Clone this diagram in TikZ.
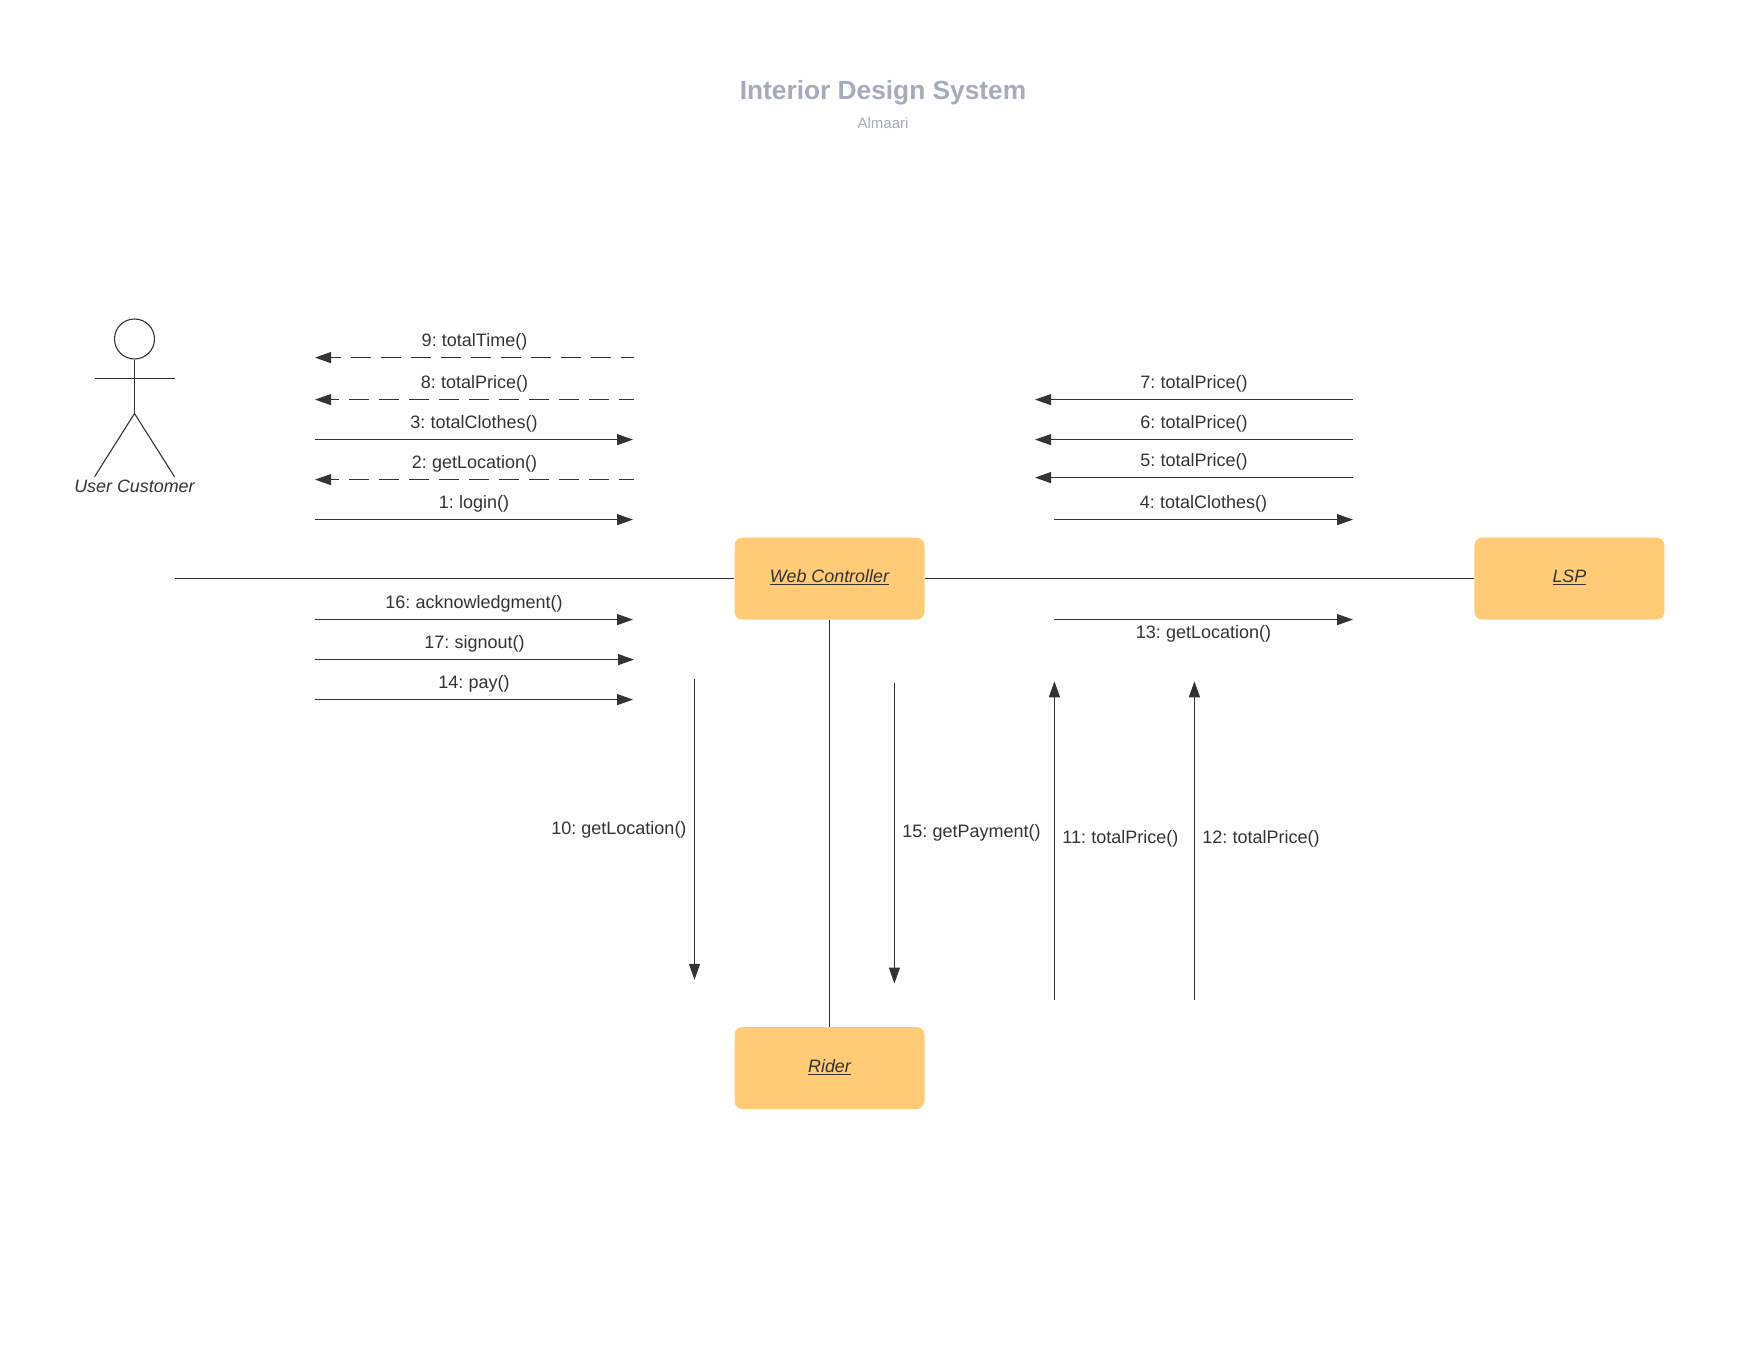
\documentclass[tikz,border=0pt]{standalone}
\usepackage{fontspec}
\setmainfont{Liberation Sans}
\newfontfamily\msgfont[WordSpace=0.7]{Liberation Sans}
\usepackage{xcolor}
\usetikzlibrary{arrows.meta, positioning}
\definecolor{boxfill}{HTML}{FFCB76}
\definecolor{inkdark}{HTML}{333333}
\definecolor{titlegray}{HTML}{A3ACB8}

\begin{document}
\begin{tikzpicture}[x=1pt, y=-1pt, auto=false,
        block/.style={rectangle, fill=boxfill, rounded corners=8pt, minimum width=190pt, minimum height=82pt, inner sep=0pt, font=\fontsize{17.9}{20}\selectfont\itshape, text=inkdark},
        line/.style={draw=inkdark, line width=1.1pt},
        arrow/.style={line, -{Triangle[length=16pt, width=11pt]}},
        retarrow/.style={line, {Triangle[length=16pt, width=11pt]}-, dash pattern=on 20pt off 10pt, dash phase=10pt},
        msg/.style={font=\fontsize{18}{20}\selectfont\msgfont, text=inkdark, inner sep=0pt, outer sep=0pt},
        up/.style={msg, above=7pt}]
        \useasboundingbox (0,0) rectangle (1760,1360);

        % Title
        \node[font=\fontsize{26.3}{30}\selectfont\bfseries, text=titlegray, inner sep=0pt] (title) at (883,93) {Interior Design System};
        \node[font=\fontsize{15}{18}\selectfont, text=titlegray, inner sep=0pt, below=12pt of title] (subtitle) {Almaari};

        % Nodes
        \node[block] (web) at (829.5,578.6) {\raisebox{4.5pt}{\underline{Web Controller}}};
        \node[block, right=549.5pt of web] (lsp) {\raisebox{4.5pt}{\underline{LSP}}};
        \node[block, below=407pt of web] (rider) {\raisebox{4.5pt}{\underline{Rider}}};

        % Actor
        \node[circle, line, minimum size=40pt, inner sep=0pt] (head) at (134.5,339) {};
        \coordinate (hip) at (134.5,413.5);
        \coordinate (armL) at (94.6,378.6);
        \coordinate (armR) at (174.5,378.6);
        \coordinate (legL) at (94.6,476.7);
        \coordinate (legR) at (174.5,476.7);
        \coordinate (actorEnd) at (175,578.6);
        \node[inner sep=0pt, font=\fontsize{17.9}{20}\selectfont\itshape, text=inkdark] (actor) at (134.5,486) {User Customer};
        \draw[line] (head) -- (hip);
        \draw[line] (armL) -- (armR);
        \draw[line] (legL) -- (hip) -- (legR);

        % Links
        \draw[line] (actorEnd) -- (web);
        \draw[line] (web) -- (lsp);
        \draw[line] (web) -- (rider);

        % Coordinates for the messages, left side
        \coordinate (a9) at (315,357.6);  \coordinate (b9) at (634,357.6);
        \coordinate (a8) at (315,399.6);  \coordinate (b8) at (634,399.6);
        \coordinate (a3) at (315,439.6);  \coordinate (b3) at (633,439.6);
        \coordinate (a2) at (315,479.6);  \coordinate (b2) at (634,479.6);
        \coordinate (a1) at (315,519.6);  \coordinate (b1) at (633,519.6);
        \coordinate (a16) at (315,619.6); \coordinate (b16) at (633,619.6);
        \coordinate (a17) at (315,659.6); \coordinate (b17) at (634,659.6);
        \coordinate (a14) at (315,699.6); \coordinate (b14) at (633,699.6);

        % Coordinates for the messages, right side
        \coordinate (c7) at (1035,399.6); \coordinate (d7) at (1353,399.6);
        \coordinate (c6) at (1035,439.6); \coordinate (d6) at (1353,439.6);
        \coordinate (c5) at (1035,477.6); \coordinate (d5) at (1353,477.6);
        \coordinate (c4) at (1054,519.6); \coordinate (d4) at (1353,519.6);
        \coordinate (c13) at (1054,619.6); \coordinate (d13) at (1353,619.6);

        % Coordinates for the messages, bottom
        \coordinate (e10) at (694.5,679);    \coordinate (f10) at (694.5,979.8);
        \coordinate (e15) at (894.4,683);    \coordinate (f15) at (894.4,983.5);
        \coordinate (e11) at (1054.4,681.3); \coordinate (f11) at (1054.4,1000);
        \coordinate (e12) at (1194.4,681.3); \coordinate (f12) at (1194.4,1000);

        % Arrows
        \draw[retarrow] (a9) -- node[up] (m9) {9: totalTime()} (b9);
        \draw[retarrow, dash phase=11.3pt] (a8) -- node[up] (m8) {8: totalPrice()} (b8);
        \draw[arrow] (a3) -- node[up] (m3) {3: totalClothes()} (b3);
        \draw[retarrow, dash phase=11.3pt] (a2) -- node[up] (m2) {2: getLocation()} (b2);
        \draw[arrow] (a1) -- node[up] (m1) {1: login()} (b1);
        \draw[arrow] (a16) -- node[up] (m16) {16: acknowledgment()} (b16);
        \draw[arrow] (a17) -- node[up] (m17) {17: signout()} (b17);
        \draw[arrow] (a14) -- node[up] (m14) {14: pay()} (b14);

        \draw[arrow] (d7) -- node[up] (m7) {7: totalPrice()} (c7);
        \draw[arrow] (d6) -- node[up] (m6) {6: totalPrice()} (c6);
        \draw[arrow] (d5) -- node[up] (m5) {5: totalPrice()} (c5);
        \draw[arrow] (c4) -- node[up] (m4) {4: totalClothes()} (d4);
        \draw[arrow] (c13) -- node[msg, below=6pt] (m13) {13: getLocation()} (d13);

        \draw[arrow] (e10) -- node[msg, left=8pt] (m10) {10: getLocation()} (f10);
        \draw[arrow] (e15) -- node[msg, right=8pt] (m15) {15: getPayment()} (f15);
        \draw[arrow] (f11) -- node[msg, right=8pt, pos=0.505] (m11) {11: totalPrice()} (e11);
        \draw[arrow] (f12) -- node[msg, right=8pt, pos=0.505] (m12) {12: totalPrice()} (e12);

\end{tikzpicture}
\end{document}
